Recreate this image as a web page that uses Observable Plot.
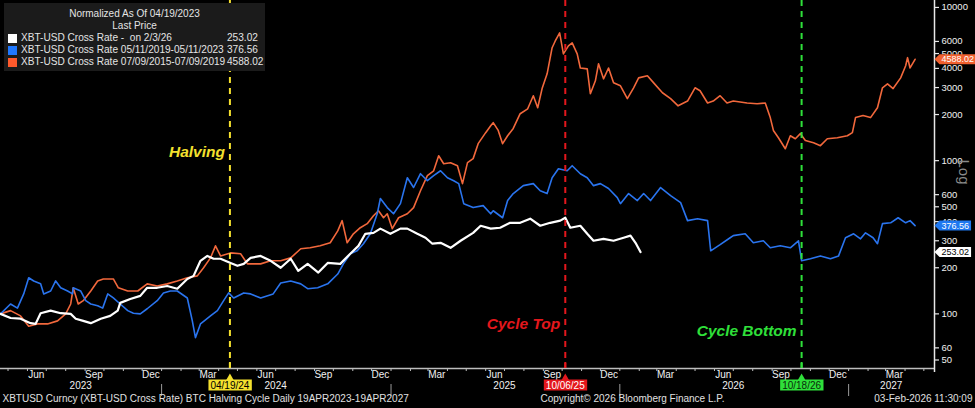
<!DOCTYPE html>
<html>
<head>
<meta charset="utf-8">
<script src="https://cdn.jsdelivr.net/npm/d3@7"></script>
<script src="https://cdn.jsdelivr.net/npm/@observablehq/plot@0.6"></script>
<style>
  html, body { margin: 0; padding: 0; background: #000; }
  #wrap { position: relative; width: 975px; height: 408px; background: #000; font-family: "Liberation Sans", Arial, sans-serif; overflow: hidden; }
  #legend { position: absolute; left: 4px; top: 3px; width: 261px; height: 68px; background: #1b1b1b; color: #e4e4e4; font-size: 10px; line-height: 12px; }
  #legend .hdr { text-align: center; }
  #legend .row { position: relative; height: 12px; white-space: pre; font-size: 10.1px; }
  #legend .sw { position: absolute; left: 4px; top: 2px; width: 9px; height: 9px; }
  #legend .lbl { position: absolute; left: 17px; top: 0; }
  #legend .val { position: absolute; left: 223px; top: 0; }
</style>
</head>
<body>
<div id="wrap"><div id="legend"></div></div>
<script>
// ---------- data ----------
const startDate = new Date(Date.UTC(2023, 3, 19));
const endDate = new Date(Date.UTC(2027, 4, 18));

// current cycle (white), days since 19 Apr 2023, normalized price
const whiteDays = [0,16,32,48,56,64,80,96,112,120,132,144,160,175,187,191,207,223,234,250,266,282,298,308,319,330,340,351,367,378,388,399,415,431,447,463,475,490,507,522,542,558,571,582,595,606,622,638,649,665,678,689,702,718,734,754,766,782,797,813,829,845,861,877,893,901,909,925,936,946,962,978,994,1005,1013,1021];
const whiteValues = [100,94,93,87,86,101,105,101,100,93,90,87,93,97,105,118,125,131,148,148,152,146,169,177,222,239,229,229,215,206,212,232,239,222,200,229,191,212,186,215,212,247,278,333,338,360,333,360,360,333,314,287,291,270,300,338,376,360,365,393,393,418,376,393,406,424,365,376,333,300,309,300,314,324,291,253.02];

// 2019-2023 cycle (blue)
const blueDays = [0,16,27,37,45,53,64,69,80,88,96,107,115,116,128,136,144,155,163,171,180,191,203,212,223,234,250,260,271,282,298,306,311,319,335,346,356,364,372,388,399,415,435,447,463,479,490,506,522,538,547,558,569,579,590,601,606,617,627,638,649,659,670,681,691,702,713,723,731,739,754,770,782,786,801,809,818,834,850,861,872,880,890,904,912,925,936,946,957,970,984,989,1002,1016,1026,1037,1053,1069,1085,1096,1112,1128,1133,1148,1164,1169,1188,1201,1217,1228,1244,1260,1273,1278,1292,1308,1324,1337,1348,1361,1372,1380,1392,1399,1407,1420,1432,1444,1451,1459];
const blueValues = [100,116,109,135,172,164,157,135,141,164,148,141,135,148,141,122,116,113,109,135,127,116,105,101,100,108,122,137,141,141,127,90,70,86,97,105,122,137,127,137,135,127,135,159,164,157,146,148,157,182,212,247,258,287,333,450,566,494,450,524,774,668,822,740,798,859,774,740,708,524,494,509,450,471,424,549,610,687,708,636,610,774,885,859,927,822,774,687,708,658,574,524,610,549,610,549,668,591,532,406,418,406,258,283,314,324,333,291,300,270,278,270,300,222,229,239,229,239,314,333,309,338,314,287,388,393,424,393,406,376.56];

// 2015-2019 cycle (orange)
const orangeDays = [0,16,32,45,59,75,91,104,112,116,124,132,144,155,164,180,188,203,219,234,250,266,282,298,314,324,335,343,351,367,383,394,415,431,447,463,479,494,510,526,538,545,553,563,574,585,595,603,611,617,625,635,649,659,670,681,691,699,707,718,729,737,745,754,762,774,782,786,794,801,809,818,829,841,850,857,864,872,880,885,892,898,906,912,920,925,936,941,949,954,962,970,978,989,1000,1010,1018,1032,1042,1056,1069,1081,1096,1108,1116,1128,1137,1148,1159,1169,1191,1207,1220,1228,1233,1241,1252,1260,1268,1276,1284,1297,1308,1319,1335,1351,1359,1364,1376,1388,1399,1407,1415,1424,1436,1444,1447,1451,1459];
const orangeValues = [100,105,97,83,86,86,90,100,116,148,116,122,141,164,169,169,148,141,141,157,152,157,164,172,177,200,232,278,239,250,247,212,212,222,222,232,266,270,278,291,348,406,291,333,365,388,437,471,424,450,360,424,450,494,636,798,859,1077,954,970,927,708,970,1031,1291,1523,1690,1771,1575,1291,1455,1624,2025,2180,2653,2214,2955,3689,5459,6040,6820,4979,5610,5870,4979,4027,3970,2733,3320,4285,3420,4027,3220,3080,2540,2990,3470,3580,3220,2775,2540,2280,2450,2990,2860,2380,2450,2653,2380,2450,2380,2352,2380,1910,1575,1411,1196,1455,1390,1500,1352,1310,1253,1390,1411,1455,1523,1910,1970,1910,2214,2990,3175,2955,3470,4160,4700,4027,4588.02];

const legendTitle = "Normalized As Of 04/19/2023";
const legendSubtitle = "Last Price";
const legendLabels = ["XBT-USD Cross Rate -  on 2/3/26", "XBT-USD Cross Rate 05/11/2019-05/11/2023", "XBT-USD Cross Rate 07/09/2015-07/09/2019"];
const lastValues = ["253.02", "376.56", "4588.02"];

const eventDates = ["2024-04-19", "2025-10-06", "2026-10-18"];
const eventTags = ["04/19/24", "10/06/25", "10/18/26"];
const eventNames = ["Halving", "Cycle Top", "Cycle Bottom"];
const eventNameLevels = [1130, 86, 77];

const yTicks = [50, 60, 100, 200, 300, 400, 500, 600, 1000, 2000, 3000, 4000, 5000, 6000, 10000];
const monthLabelDates = ["2023-06-15","2023-09-15","2023-12-15","2024-03-15","2024-06-15","2024-09-15","2024-12-15","2025-03-15","2025-06-15","2025-09-15","2025-12-15","2026-03-15","2026-06-15","2026-09-15","2026-12-15","2027-03-15"];
const yearLabels = ["2023", "2024", "2025", "2026", "2027"];
const yearLabelDates = ["2023-08-25", "2024-07-01", "2025-07-01", "2026-07-01", "2027-03-10"];
const yearStarts = ["2024-01-01", "2025-01-01", "2026-01-01", "2027-01-01"];

const footerLeft = "XBTUSD Curncy (XBT-USD Cross Rate) BTC Halving Cycle Daily 19APR2023-19APR2027";
const footerMid = "Copyright\u00A9 2026 Bloomberg Finance L.P.";
const footerRight = "03-Feb-2026 11:30:09";

// ---------- styles ----------
const seriesColors = ["#ffffff", "#2a74ee", "#f2683c"];
const tagTextColors = ["#000000", "#ffffff", "#ffffff"];
const seriesWidths = [2.2, 1.6, 1.6];
const eventColors = ["#f4e02e", "#e3171c", "#2fe03a"];
const eventTagText = ["#000000", "#ffffff", "#0a2a0a"];

// ---------- build ----------
const dayToDate = d => d3.utcDay.offset(startDate, d);
const parse = s => new Date(s + "T00:00:00Z");
const seriesData = [
  whiteDays.map((d, i) => ({date: dayToDate(d), value: whiteValues[i]})),
  blueDays.map((d, i) => ({date: dayToDate(d), value: blueValues[i]})),
  orangeDays.map((d, i) => ({date: dayToDate(d), value: orangeValues[i]}))
];

// legend
const lg = document.getElementById("legend");
lg.innerHTML = `<div class="hdr" style="margin-top:5px">${legendTitle}</div><div class="hdr">${legendSubtitle}</div>` +
  legendLabels.map((l, i) => `<div class="row"><span class="sw" style="background:${i === 0 ? "#fff" : i === 1 ? "#1f78ff" : "#ff5a2c"}"></span><span class="lbl">${l}</span><span class="val">${lastValues[i]}</span></div>`).join("");

const lineMarks = [2, 1, 0].map(i => Plot.line(seriesData[i], {x: "date", y: "value", stroke: seriesColors[i], strokeWidth: seriesWidths[i], curve: "linear"}));
const eventRules = eventDates.map((d, i) => Plot.ruleX([parse(d)], {stroke: eventColors[i], strokeWidth: 2, strokeDasharray: "6,5"}));
const eventMarks = eventDates.flatMap((d, i) => [
  Plot.text([eventNames[i]], {x: () => parse(d), y: () => eventNameLevels[i], text: t => t, textAnchor: "end", dx: -5, fill: eventColors[i], fontSize: 15.5, fontWeight: "bold", fontStyle: "italic"}),
  Plot.dot([parse(d)], {x: t => t, frameAnchor: "bottom", dy: 10, symbol: "triangle", r: 3.2, fill: eventColors[i], stroke: "none"}),
  Plot.tickX([parse(d)], {x: t => t, stroke: eventColors[i], strokeWidth: 2, insetTop: 362}),
  Plot.text([eventTags[i]], {x: () => parse(d), text: t => t, frameAnchor: "bottom", dy: 20, fill: eventTagText[i], fontSize: 10})
]);
const tagMarks = [0, 1, 2].map(i => Plot.text([lastValues[i]], {y: () => +lastValues[i], text: t => t, frameAnchor: "right", dx: 7, textAnchor: "start", fill: tagTextColors[i], fontSize: 9}));

const plot = Plot.plot({
  width: 975,
  height: 408,
  marginLeft: 0,
  marginRight: 41,
  marginTop: 0,
  marginBottom: 40,
  style: {background: "#000", color: "#fff", fontFamily: "'Liberation Sans', Arial, sans-serif", fontSize: "10px", overflow: "visible"},
  x: {type: "utc", domain: [startDate, endDate]},
  y: {type: "log", domain: [44, 11100], axis: null},
  marks: [
    ...lineMarks,
    ...eventRules,
    Plot.ruleY([44], {stroke: "#bdbdbd", strokeWidth: 1.5}),
    Plot.ruleX([endDate], {stroke: "#e8e8e8", strokeWidth: 1.5, y1: 11100, y2: 44, insetBottom: -4}),
    Plot.axisX(d3.utcMonths(startDate, endDate), {tickSize: 3, tickFormat: () => "", stroke: "#bdbdbd", fill: "none"}),
    Plot.axisX(yearStarts.map(parse), {tickSize: 12, dy: 16, tickFormat: () => "", stroke: "#9a9a9a", fill: "none"}),
    Plot.text(monthLabelDates.map(parse), {x: d => d, text: d => d3.utcFormat("%b")(d), frameAnchor: "bottom", dy: 9, fill: "#f0f0f0", fontSize: 10}),
    Plot.text(yearLabels, {x: (d, i) => parse(yearLabelDates[i]), text: d => d, frameAnchor: "bottom", dy: 20, fill: "#f0f0f0", fontSize: 10}),
    Plot.ruleY(yTicks, {y: d => d, x1: () => endDate, x2: () => endDate, insetRight: -5, stroke: "#e8e8e8", strokeWidth: 1.2}),
    Plot.text(yTicks, {y: d => d, text: d => String(d), frameAnchor: "right", dx: 7, textAnchor: "start", fill: "#f0f0f0", fontSize: 9.5}),
    ...eventMarks,
    ...tagMarks,
    Plot.text(["Log"], {text: d => d, frameAnchor: "right", dx: 29, rotate: 90, fill: "#8a8a8a", fontSize: 15}),
    Plot.text([footerLeft], {text: d => d, frameAnchor: "bottom-left", dx: 2, dy: 33, textAnchor: "start", fill: "#e0e0e0", fontSize: 10}),
    Plot.text([footerMid], {text: d => d, frameAnchor: "bottom-left", dx: 540, dy: 33, textAnchor: "start", fill: "#e0e0e0", fontSize: 10}),
    Plot.text([footerRight], {text: d => d, frameAnchor: "bottom-right", dx: 38, dy: 33, textAnchor: "end", fill: "#e0e0e0", fontSize: 10})
  ]
});
const wrap = document.getElementById("wrap");
wrap.insertBefore(plot, wrap.firstChild);

function addTagBg(svg, label, fill, arrow) {
  svg.querySelectorAll("text").forEach(t => {
    if (t.textContent !== label) return;
    const b = t.getBBox();
    const x0 = b.x - 2, x1 = b.x + b.width + 2, y0 = b.y, y1 = b.y + b.height;
    const cy = (y0 + y1) / 2;
    const p = document.createElementNS("http://www.w3.org/2000/svg", "path");
    p.setAttribute("d", arrow ? `M${x0 - 5},${cy}L${x0},${y0}H${x1}V${y1}H${x0}Z` : `M${x0},${y0}H${x1}V${y1}H${x0}Z`);
    p.setAttribute("fill", fill);
    p.setAttribute("stroke", "none");
    const tr = t.getAttribute("transform");
    if (tr) p.setAttribute("transform", tr);
    t.parentNode.insertBefore(p, t);
  });
}
const tagFills = ["#ffffff", "#1f78f0", "#f0602f"];
lastValues.forEach((v, i) => addTagBg(plot, v, tagFills[i], true));
eventTags.forEach((v, i) => addTagBg(plot, v, eventColors[i], false));
</script>
</body>
</html>
